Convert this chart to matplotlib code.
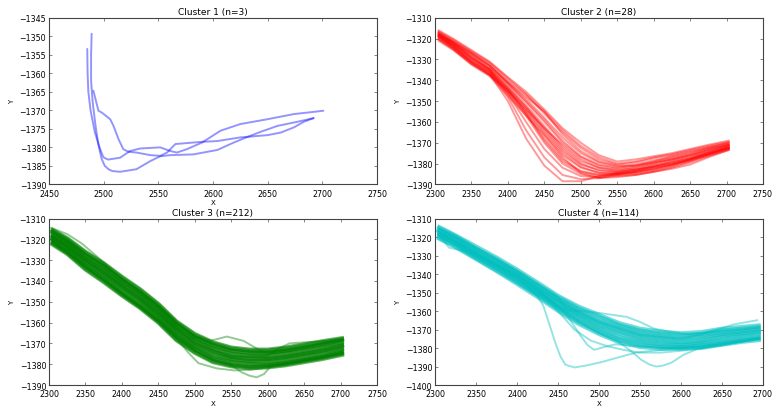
import matplotlib
matplotlib.use("Agg")
import matplotlib.pyplot as plt
import numpy as np

# ---------------- Cluster 1 (n=3) ----------------
c1_a_x = [2485, 2485.3, 2486, 2488, 2492, 2496.8, 2499.8, 2504, 2515, 2524, 2533.5, 2551.8, 2561, 2567, 2576, 2590, 2606.9, 2625, 2649.7, 2674, 2686.4, 2701]
c1_a_y = [-1353.4, -1360, -1365, -1370, -1376, -1380.5, -1382.7, -1383.3, -1382.8, -1381, -1380.3, -1380, -1381, -1381.4, -1380.5, -1378.7, -1375.5, -1373.7, -1372.4, -1371, -1370.6, -1370.1]
c1_b_x = [2489, 2488.5, 2488.5, 2490, 2492.5, 2495, 2498, 2501, 2504.4, 2508, 2515, 2530, 2542.7, 2551.8, 2561, 2582, 2604, 2619, 2628, 2643.6, 2659, 2677, 2692]
c1_b_y = [-1349.3, -1355, -1362, -1368, -1374, -1379, -1383, -1385, -1385.9, -1386.4, -1386.6, -1385.9, -1383.7, -1382.4, -1382.1, -1381.9, -1380.7, -1378.7, -1377.6, -1375.8, -1374.2, -1373.1, -1372.1]
c1_c_x = [2490.6, 2495.2, 2498.3, 2506, 2509, 2513.6, 2518, 2522.8, 2530, 2542.7, 2551.8, 2558, 2565.6, 2590, 2603.8, 2625.2, 2649.7, 2662, 2674, 2683, 2692]
c1_c_y = [-1364.7, -1370.1, -1370.6, -1372.4, -1374.2, -1377.8, -1380.5, -1381.2, -1381.4, -1382.1, -1382.3, -1381.4, -1379.1, -1378.5, -1378.3, -1377.3, -1376.7, -1376, -1374.6, -1373.1, -1372.1]

# ---------------- Cluster 2 (n=28) ----------------
c2_x = [2305, 2325, 2350, 2375, 2400, 2425, 2450, 2475, 2500, 2525, 2550, 2575, 2600, 2625, 2650, 2675, 2703]
c2_curves = [
    [-1316, -1320, -1325.5, -1331, -1338.5, -1345.5, -1354, -1363, -1370, -1376, -1379, -1378, -1376.5, -1375, -1373, -1371, -1369],
    [-1317, -1321, -1326.5, -1332, -1340, -1347, -1356, -1365, -1372.5, -1378, -1380.5, -1379.5, -1377.5, -1376, -1374, -1372, -1370],
    [-1317.5, -1322, -1327.5, -1333, -1341, -1349, -1358, -1367.5, -1375, -1379.5, -1381.5, -1380.5, -1378.5, -1377, -1375, -1372.5, -1370.5],
    [-1318, -1322.5, -1328, -1334, -1342, -1350.5, -1360, -1370, -1377, -1381, -1382.5, -1381.5, -1379.5, -1377.5, -1375.5, -1373, -1371],
    [-1318.5, -1323, -1329, -1334.5, -1343, -1352, -1362, -1372, -1379, -1382, -1383, -1382.5, -1380.5, -1378.5, -1376.5, -1374, -1371.5],
    [-1319, -1323.5, -1330, -1335.5, -1344, -1353, -1364, -1374, -1380.5, -1383, -1384, -1383, -1381, -1379.5, -1377.5, -1374.5, -1372],
    [-1319.5, -1324, -1331, -1336, -1345, -1355, -1366, -1376, -1382, -1384.5, -1384.5, -1384, -1382.5, -1380.5, -1378, -1375.5, -1372.5],
    [-1320, -1325, -1332, -1337, -1346, -1356, -1368, -1378, -1383.5, -1385.5, -1385.5, -1385, -1383.5, -1381.5, -1379, -1376, -1373],
    [-1321, -1325.5, -1332.5, -1338, -1347.5, -1357, -1366.5, -1377, -1384.5, -1386.5, -1386, -1385.5, -1384, -1382.5, -1380.5, -1377, -1373.5],
    [-1318, -1322, -1329, -1335, -1346.5, -1360, -1373, -1382, -1386, -1386.5, -1385, -1383.5, -1381.5, -1380, -1378, -1375, -1372],
    [-1318.5, -1323, -1330, -1336, -1348, -1364, -1377, -1385.5, -1387.5, -1387, -1385.5, -1384, -1382, -1380.5, -1378.5, -1376, -1373],
    [-1319, -1324, -1331, -1337, -1350, -1368, -1381, -1388.5, -1388.5, -1386, -1384.5, -1383, -1381.5, -1379.5, -1377.5, -1375, -1372.5],
    [-1317, -1321.5, -1327, -1333, -1341, -1348, -1355, -1366, -1374, -1379, -1381, -1381, -1379, -1376.5, -1374.5, -1372.5, -1370],
    [-1320, -1324.5, -1331.5, -1337.5, -1345, -1354, -1363, -1371, -1378, -1382, -1383.5, -1382, -1380, -1378, -1376, -1373.5, -1371],
    [-1316.5, -1320.5, -1326, -1331.5, -1339, -1346.5, -1355, -1364, -1371.5, -1377, -1380, -1379, -1377, -1375.5, -1373.5, -1371.5, -1369.5],
    [-1318, -1322, -1328.5, -1334.5, -1343.5, -1353, -1363, -1373, -1380, -1383.5, -1384, -1383, -1381.5, -1379, -1377, -1374.5, -1371.5],
    [-1319, -1324, -1331, -1336.5, -1344.5, -1354.5, -1365, -1375, -1381.5, -1384.5, -1385, -1384.5, -1383, -1381, -1378.5, -1375.5, -1372.5],
    [-1320.5, -1325, -1332, -1337.5, -1346, -1357, -1370, -1380, -1385, -1387, -1386.5, -1385.5, -1384, -1382, -1379.5, -1376.5, -1373.5],
    [-1317.5, -1321.5, -1327, -1333, -1341.5, -1350, -1359, -1369, -1376.5, -1380.5, -1382, -1381, -1379.5, -1378, -1376, -1373.5, -1371],
    [-1318.5, -1323, -1329.5, -1335, -1344.5, -1356, -1369, -1379, -1384, -1385.5, -1385, -1384, -1382.5, -1380.5, -1378, -1375.5, -1372.5],
]

# ---------------- Cluster 3 (n=212) ----------------
c3_x = [2305, 2325, 2350, 2375, 2400, 2425, 2450, 2475, 2500, 2525, 2550, 2575, 2600, 2625, 2650, 2675, 2702]
c3_curves = [
    [-1315.5, -1319.5, -1326, -1331.5, -1338, -1344, -1351, -1359.5, -1365.5, -1369.5, -1372, -1373, -1373, -1372, -1370.5, -1369, -1367.5],
    [-1316, -1320, -1326.5, -1332, -1338.5, -1344.5, -1351.5, -1360, -1366, -1370, -1372.5, -1373.5, -1373.5, -1372.5, -1371, -1369.5, -1368],
    [-1316.5, -1320.5, -1327.5, -1333, -1339.5, -1345.5, -1352.5, -1361, -1367, -1371, -1373.5, -1374.5, -1374.5, -1373.5, -1372, -1370.5, -1368.5],
    [-1317, -1321.5, -1328, -1333.5, -1340, -1346, -1353, -1361.5, -1367.5, -1371.5, -1374, -1375, -1375, -1374, -1372.5, -1371, -1369.5],
    [-1318, -1322, -1329, -1334.5, -1341, -1347, -1354, -1362.5, -1368.5, -1372.5, -1375, -1376, -1376, -1375, -1373.5, -1372, -1370.5],
    [-1318.5, -1322.5, -1329.5, -1335, -1341.5, -1347.5, -1354.5, -1363, -1369, -1373.5, -1376, -1377, -1377, -1376, -1374.5, -1373, -1371],
    [-1319, -1323, -1330, -1336, -1342.5, -1348.5, -1355.5, -1364, -1370, -1374, -1376.5, -1377.5, -1377.5, -1376.5, -1375, -1373.5, -1371.5],
    [-1319.5, -1324, -1331, -1336.5, -1343, -1349, -1356.5, -1364.5, -1371, -1375, -1377.5, -1378.5, -1378, -1377, -1375.5, -1374, -1372.5],
    [-1320, -1324.5, -1331.5, -1337.5, -1344, -1350, -1357, -1365.5, -1371.5, -1376, -1378, -1379, -1379, -1378, -1376.5, -1375, -1373],
    [-1320.5, -1325, -1332.5, -1338.5, -1345, -1351, -1358, -1366.5, -1372.5, -1377, -1379, -1380, -1380, -1379, -1377.5, -1376, -1374],
    [-1321.5, -1326, -1333, -1339, -1346, -1352, -1359, -1367, -1373, -1377.5, -1380, -1381, -1380.5, -1379.5, -1378, -1376.5, -1374.5],
    [-1322, -1326.5, -1334, -1340, -1346.5, -1352.5, -1359.5, -1368, -1374, -1378.5, -1380.5, -1381.5, -1381, -1380, -1378.5, -1377, -1375],
    [-1322.5, -1327, -1334.5, -1340.5, -1347, -1353, -1360, -1368.5, -1374.5, -1379, -1381, -1382, -1381.5, -1380.5, -1379, -1377.5, -1375.5],
]
c3_out_x = [
    [2305, 2325, 2350, 2375, 2400, 2425, 2450, 2475, 2500, 2521, 2544, 2567, 2590, 2610, 2630, 2650, 2675, 2702],
    [2305, 2350, 2400, 2450, 2500, 2525, 2550, 2565, 2575, 2585, 2595, 2605, 2625, 2650, 2675, 2702],
    [2305, 2350, 2400, 2450, 2475, 2490, 2505, 2530, 2555, 2580, 2610, 2650, 2702],
    [2303, 2325, 2345, 2365, 2385, 2400, 2450, 2500, 2550, 2600, 2650, 2702],
    [2305, 2350, 2400, 2450, 2500, 2550, 2600, 2615, 2630, 2650, 2675, 2702],
]
c3_out_y = [
    [-1316.5, -1321, -1327, -1332.5, -1339, -1345, -1352, -1360.5, -1366.5, -1368.8, -1366.7, -1368.8, -1373.5, -1374.5, -1373.5, -1372, -1370, -1368.5],
    [-1321, -1333, -1346, -1359, -1373.5, -1378, -1380.5, -1384, -1385.5, -1386.3, -1384.7, -1380.7, -1379.5, -1378, -1376.5, -1374.5],
    [-1321.5, -1333.5, -1346, -1359.5, -1367.5, -1374, -1379.5, -1382, -1383, -1382.5, -1381, -1378.5, -1375],
    [-1314.5, -1317.5, -1322, -1328, -1334.5, -1339, -1352, -1367, -1373, -1374.5, -1372, -1369],
    [-1319, -1330, -1342.5, -1355.5, -1370, -1376.5, -1376, -1372.5, -1370, -1369.5, -1369, -1368],
]

# ---------------- Cluster 4 (n=114) ----------------
c4_x = [2305, 2325, 2350, 2375, 2400, 2425, 2450, 2475, 2500, 2525, 2550, 2575, 2600, 2625, 2650, 2675, 2695]
c4_curves = [
    [-1314.5, -1319, -1325, -1331, -1337.5, -1344.5, -1351.7, -1357.5, -1362, -1366.5, -1369.5, -1371, -1372, -1371.3, -1369.5, -1368.5, -1367.7],
    [-1315, -1319.5, -1326, -1332, -1338.5, -1345.5, -1352.5, -1358.5, -1363, -1367.5, -1370.5, -1372, -1373, -1372.3, -1370.5, -1369.5, -1368.5],
    [-1316, -1320, -1326.5, -1332.5, -1339, -1346.5, -1353.5, -1359.5, -1364.5, -1368.5, -1371.5, -1373, -1374, -1373, -1371.5, -1370.5, -1369.5],
    [-1316.5, -1321, -1327.5, -1333.5, -1340, -1347, -1354, -1360.5, -1365.5, -1369.5, -1372.5, -1374, -1375, -1374, -1372.5, -1371, -1370],
    [-1317, -1321.5, -1328, -1334, -1340.5, -1348, -1355, -1361.5, -1366.5, -1370.5, -1373.5, -1375, -1376, -1375, -1373, -1372, -1371],
    [-1318, -1322, -1329, -1335, -1341.5, -1348.5, -1356, -1362, -1367.5, -1371.5, -1374.5, -1376, -1377, -1376, -1374, -1372.5, -1371.5],
    [-1318.5, -1323, -1329.5, -1335.5, -1342, -1349.5, -1356.5, -1363, -1368.5, -1372.5, -1375.5, -1377, -1378, -1377, -1375, -1373.5, -1372.5],
    [-1319, -1323.5, -1330, -1336.5, -1343, -1350, -1357.5, -1364, -1369.5, -1374, -1376.5, -1378, -1378.5, -1377.5, -1376, -1374.5, -1373.5],
    [-1319.5, -1324, -1331, -1337, -1344, -1351, -1358, -1365, -1370.5, -1375, -1377.5, -1379, -1379.5, -1378.5, -1377, -1375.5, -1374.5],
    [-1320.5, -1325, -1331.5, -1338, -1344.5, -1351.5, -1359, -1366, -1371.5, -1376, -1378.5, -1379.5, -1380, -1379.5, -1377.5, -1376, -1375],
    [-1321, -1325.5, -1332, -1338.5, -1345.4, -1352.5, -1360, -1367, -1372.5, -1377, -1379.5, -1380.5, -1380.5, -1380, -1378.3, -1376.7, -1375.8],
]
c4_out_x = [
    [2305, 2350, 2400, 2425, 2432, 2439, 2447, 2453, 2459, 2470, 2484, 2504, 2524, 2545, 2565, 2590, 2620, 2650, 2675, 2695],
    [2305, 2350, 2400, 2450, 2475, 2500, 2525, 2540, 2552, 2562, 2570, 2578, 2588, 2603, 2620, 2650, 2695],
    [2305, 2350, 2400, 2450, 2461, 2490, 2506, 2534, 2550, 2567, 2587, 2610, 2650, 2695],
    [2305, 2350, 2400, 2450, 2500, 2550, 2600, 2625, 2648, 2664, 2680, 2693],
    [2305, 2350, 2400, 2440, 2461, 2477, 2486, 2494, 2506, 2520, 2545, 2575, 2600, 2650, 2695],
    [2301, 2309, 2317, 2334, 2350, 2400, 2430, 2450, 2470, 2490, 2510, 2530, 2550, 2575, 2600, 2650, 2695],
]
c4_out_y = [
    [-1318, -1329, -1342, -1352, -1357, -1366.5, -1377.5, -1384.5, -1389, -1390.5, -1389.5, -1387.5, -1385, -1382.5, -1381.5, -1380.5, -1379.5, -1378, -1376.5, -1375],
    [-1319, -1330, -1343, -1357.5, -1365.5, -1372, -1377, -1382, -1386.5, -1389, -1390, -1389.5, -1388, -1383.7, -1380.5, -1378.5, -1375],
    [-1315.5, -1326, -1338.5, -1352.5, -1359.6, -1360.5, -1361.4, -1363.2, -1365.9, -1369.5, -1371.3, -1372.5, -1371, -1369],
    [-1317, -1328, -1340.5, -1354.5, -1366, -1373, -1375, -1372.5, -1369.5, -1367.3, -1366, -1365],
    [-1317.5, -1328.5, -1342, -1353.5, -1362.3, -1373, -1378.4, -1381, -1379.5, -1378, -1379, -1380, -1380, -1377.5, -1374.5],
    [-1316, -1321.3, -1325.7, -1327.5, -1329.5, -1340.5, -1350, -1360, -1370, -1376, -1379, -1381, -1382.5, -1382.5, -1381.5, -1378.5, -1374.5],
]

titles = ["Cluster 1 (n=3)", "Cluster 2 (n=28)", "Cluster 3 (n=212)", "Cluster 4 (n=114)"]
colors = [(0, 0, 1), (1, 0, 0), (0, 0.5, 0), (0, 0.75, 0.75)]
xlims = [(2450, 2750), (2300, 2750), (2300, 2750), (2300, 2700)]
ylims = [(-1390, -1345), (-1390, -1310), (-1390, -1310), (-1400, -1310)]
ysteps = [5, 10, 10, 10]

fig, axes = plt.subplots(2, 2, figsize=(7.73, 4.10), dpi=100)
fig.subplots_adjust(left=0.0634, right=0.987, bottom=0.0585, top=0.954, wspace=0.177, hspace=0.205)
axes = axes.ravel()

lw = 1.4
al = 0.42

ax = axes[0]
for xs, ys in [(c1_a_x, c1_a_y), (c1_b_x, c1_b_y), (c1_c_x, c1_c_y)]:
    ax.plot(xs, ys, color=colors[0], alpha=al, lw=lw, solid_capstyle='round')

ax = axes[1]
for ys in c2_curves:
    ax.plot(c2_x, ys, color=colors[1], alpha=0.4, lw=lw)

ax = axes[2]
for ys in c3_curves:
    ax.plot(c3_x, ys, color=colors[2], alpha=0.6, lw=3.0)
for xs, ys in zip(c3_out_x, c3_out_y):
    ax.plot(xs, ys, color=colors[2], alpha=al, lw=lw)

ax = axes[3]
for ys in c4_curves:
    ax.plot(c4_x, ys, color=colors[3], alpha=0.55, lw=2.8)
for xs, ys in zip(c4_out_x, c4_out_y):
    ax.plot(xs, ys, color=colors[3], alpha=al, lw=lw)

for i, ax in enumerate(axes):
    ax.set_xlim(*xlims[i])
    ax.set_ylim(*ylims[i])
    ax.set_xticks(np.arange(xlims[i][0], xlims[i][1] + 1, 50))
    ax.set_yticks(np.arange(ylims[i][0], ylims[i][1] + 1, ysteps[i]))
    ax.set_title(titles[i], fontsize=6.5, pad=2.5)
    ax.set_xlabel("X", fontsize=5, labelpad=1)
    ax.set_ylabel("Y", fontsize=5, labelpad=3)
    ax.tick_params(direction='in', top=True, right=True, length=2.5, width=0.5,
                   labelsize=5.7, color='#555555')
    ax.tick_params(axis='x', pad=3.2)
    ax.tick_params(axis='y', pad=2)
    for sp in ax.spines.values():
        sp.set_linewidth(0.8)
        sp.set_color('#444444')

fig.savefig("out.png", dpi=100, facecolor='white')
